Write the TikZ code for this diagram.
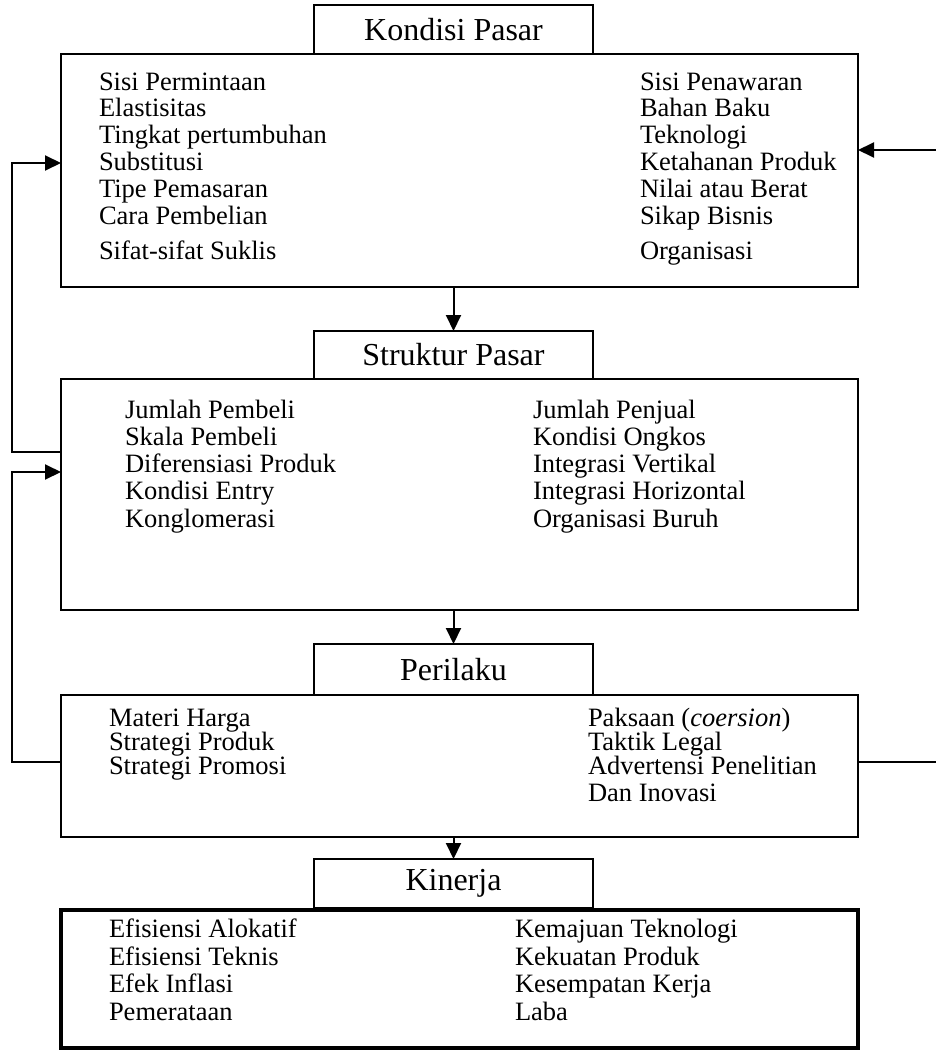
\documentclass[tikz,border=0pt]{standalone}
\usepackage{fontspec}
\setmainfont{Liberation Serif}
\usetikzlibrary{arrows.meta,positioning}
\tikzset{
	arr/.style={-{Triangle[length=16pt,width=15pt]}},
	titlebox/.style={draw, rectangle, inner sep=0pt, outer sep=0pt, minimum width=279pt, minimum height=49pt, font=\fontsize{32}{36}\selectfont},
	bigbox/.style={draw, rectangle, inner sep=0pt, outer sep=0pt, minimum width=797pt},
	item/.style={anchor=base west, inner sep=0pt, font=\fontsize{26.5}{28}\selectfont}
}
\begin{document}
\begin{tikzpicture}[x=1pt, y=-1pt, line width=2pt]
	\useasboundingbox (0,0) rectangle (936,1051);

	% title boxes
	\node[titlebox] (kondisi) at (453.5,29.5) {Kondisi Pasar};
	\node[titlebox, minimum height=48pt] (struktur) at (453.5,355) {Struktur Pasar};
	\node[titlebox, minimum height=51pt] (perilaku) at (453.5,669.5) {Perilaku};
	\node[titlebox] (kinerja) at (453.5,883.5) {Kinerja};

	% content boxes
	\node[bigbox, minimum height=233pt] (kondisiBox) at (459.5,170.5) {};
	\node[bigbox, minimum height=231pt] (strukturBox) at (459.5,494.5) {};
	\node[bigbox, minimum height=142pt] (perilakuBox) at (459.5,766) {};
	\node[bigbox, minimum height=138pt, line width=4pt] (kinerjaBox) at (459.5,979) {};

	% Kondisi Pasar
	\foreach \txt/\yy [count=\i] in {Sisi Permintaan/91, Elastisitas/117, Tingkat pertumbuhan/144, Substitusi/171, Tipe Pemasaran/197, Cara Pembelian/224, Sifat-sifat Suklis/259}
		\node[item] (kpL\i) at (98,\yy) {\txt};
	\foreach \txt/\yy [count=\i] in {Sisi Penawaran/91, Bahan Baku/117, Teknologi/144, Ketahanan Produk/171, Nilai atau Berat/197, Sikap Bisnis/224, Organisasi/259}
		\node[item] (kpR\i) at (639,\yy) {\txt};

	% Struktur Pasar
	\foreach \txt/\yy [count=\i] in {Jumlah Pembeli/418, Skala Pembeli/445, Diferensiasi Produk/472, Kondisi Entry/499, Konglomerasi/527}
		\node[item] (spL\i) at (124,\yy) {\txt};
	\foreach \txt/\yy [count=\i] in {Jumlah Penjual/418, Kondisi Ongkos/445, Integrasi Vertikal/472, Integrasi Horizontal/499, Organisasi Buruh/527}
		\node[item] (spR\i) at (532,\yy) {\txt};

	% Perilaku
	\foreach \txt/\yy [count=\i] in {Materi Harga/726, Strategi Produk/750, Strategi Promosi/774}
		\node[item] (prL\i) at (108,\yy) {\txt};
	\foreach \txt/\yy [count=\i] in {{Paksaan (\textit{coersion})}/726, Taktik Legal/750, Advertensi Penelitian/774, Dan Inovasi/801}
		\node[item] (prR\i) at (587,\yy) {\txt};

	% Kinerja
	\foreach \txt/\yy [count=\i] in {Efisiensi Alokatif/937, Efisiensi Teknis/965, Efek Inflasi/992, Pemerataan/1020}
		\node[item] (knL\i) at (108,\yy) {\txt};
	\foreach \txt/\yy [count=\i] in {Kemajuan Teknologi/937, Kekuatan Produk/965, Kesempatan Kerja/992, Laba/1020}
		\node[item] (knR\i) at (514,\yy) {\txt};

	% downward arrows
	\draw[arr] (kondisiBox.south -| struktur.north) -- (struktur.north);
	\draw[arr] (strukturBox.south -| perilaku.north) -- (perilaku.north);
	\draw[arr] (perilakuBox.south -| kinerja.north) -- (kinerja.north);

	% feedback lines
	\coordinate (fbA) at (12,452);
	\coordinate (fbB) at (12,163);
	\coordinate (fbC) at (12,762);
	\coordinate (fbD) at (12,472);
	\coordinate (fbE) at (938,762);
	\coordinate (fbF) at (938,150);
	\draw[arr] (strukturBox.west |- fbA) -- (fbA) -- (fbB) -- (kondisiBox.west |- fbB);
	\draw[arr] (perilakuBox.west |- fbC) -- (fbC) -- (fbD) -- (strukturBox.west |- fbD);
	\draw[arr] (perilakuBox.east |- fbE) -- (fbE) -- (fbF) -- (kondisiBox.east |- fbF);
\end{tikzpicture}
\end{document}
